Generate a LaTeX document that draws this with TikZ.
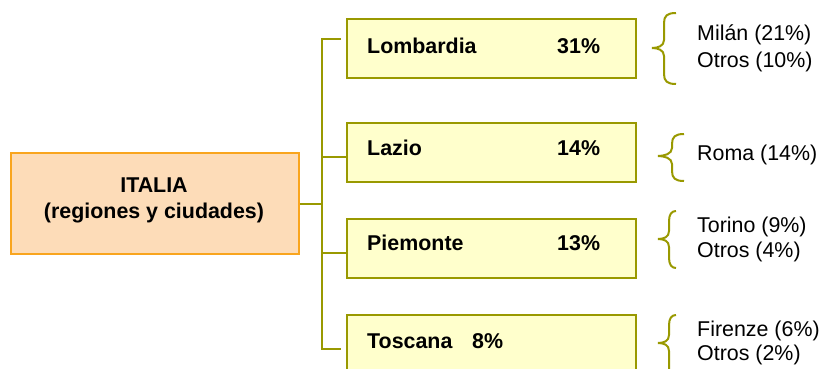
\documentclass[tikz,border=0pt]{standalone}
\usepackage{fontspec}
\setmainfont{Liberation Sans}
\definecolor{olivec}{HTML}{999900}
\definecolor{ybg}{HTML}{FFFFCC}
\definecolor{peach}{HTML}{FDDCB8}
\definecolor{orng}{HTML}{F9A51E}
\newcommand\mybrace[6]{%
  \draw[bracestyle] (#1,#2) .. controls (#3+3,#2) and (#3,#2+3) .. (#3,#2+10)
    -- (#3,#5-8) .. controls (#3,#5-2) and (#4+6,#5) .. (#4,#5)
    .. controls (#4+6,#5) and (#3,#5+2) .. (#3,#5+8)
    -- (#3,#6-10) .. controls (#3,#6-3) and (#3+3,#6) .. (#1,#6);}
\begin{document}
\begin{tikzpicture}[x=1pt,y=-1pt,
  ybox/.style={draw=olivec, fill=ybg, line width=1.8pt, minimum width=289pt, minimum height=59pt, anchor=north west, inner sep=0pt},
  lbl/.style={anchor=base west, inner sep=0pt, font=\fontsize{21.4}{25.7}\selectfont\bfseries},
  ctr/.style={anchor=base, inner sep=0pt, font=\fontsize{21.4}{25.7}\selectfont\bfseries},
  city/.style={anchor=base west, inner sep=0pt, font=\fontsize{21.4}{25.7}\selectfont},
  conn/.style={draw=olivec, line width=2pt},
  bracestyle/.style={draw=olivec, line width=2pt}]
\useasboundingbox (0,0) rectangle (819,369);
\clip (0,0) rectangle (819,369);

% root
\node[draw=orng, fill=peach, line width=2pt, minimum width=288pt, minimum height=101pt, anchor=north west, inner sep=0pt] (italia) at (10,152) {};
\node[ctr] (it1) at (154,192) {ITALIA};
\node[ctr] (it2) at (154,218) {(regiones y ciudades)};

% region boxes
\node[ybox] (lomb) at (346,18) {};
\node[ybox] (lazio) at (346,122) {};
\node[ybox] (piem) at (346,218) {};
\node[ybox] (tosc) at (346,314) {};

\node[lbl] (lombt) at (367,53) {Lombardia};
\node[lbl] (lombp) at (557,53) {31\%};
\node[lbl] (laziot) at (367,155) {Lazio};
\node[lbl] (laziop) at (557,155) {14\%};
\node[lbl] (piemt) at (367,250) {Piemonte};
\node[lbl] (piemp) at (557,250) {13\%};
\node[lbl] (tosct) at (367,348) {Toscana};
\node[lbl] (toscp) at (472,348) {8\%};

% connectors
\coordinate (hub) at (italia.east -| 322,0);
\coordinate (lt) at (341,39);
\coordinate (tb) at (341,349);
\coordinate (lz) at (346,157);
\coordinate (pm) at (346,253);
\draw[conn] (italia.east) -- (hub);
\draw[conn] (lt) -| (hub) |- (tb);
\draw[conn] (hub |- lz) -- (lz);
\draw[conn] (hub |- pm) -- (pm);

% braces
\mybrace{676}{13}{664}{652}{48}{84}
\mybrace{684}{134}{672}{658}{156}{181}
\mybrace{676}{211}{669}{658}{239}{268}
\mybrace{676}{315}{669}{658}{343}{400}

% cities
\node[city] (c1) at (697,41) {Milán (21\%)};
\node[city] (c2) at (697,67) {Otros (10\%)};
\node[city] (c3) at (697,160) {Roma (14\%)};
\node[city] (c4) at (697,232) {Torino (9\%)};
\node[city] (c5) at (697,257) {Otros (4\%)};
\node[city] (c6) at (697,336) {Firenze (6\%)};
\node[city] (c7) at (697,360) {Otros (2\%)};
\end{tikzpicture}
\end{document}
